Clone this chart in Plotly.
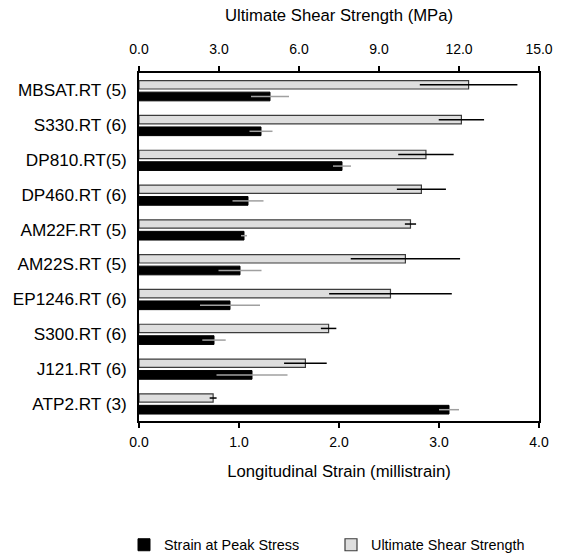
import plotly.graph_objects as go

categories = ["MBSAT.RT (5)", "S330.RT (6)", "DP810.RT(5)", "DP460.RT (6)", "AM22F.RT (5)",
              "AM22S.RT (5)", "EP1246.RT (6)", "S300.RT (6)", "J121.RT (6)", "ATP2.RT (3)"]
strength_mpa = [12.36, 12.09, 10.76, 10.59, 10.18, 9.99, 9.43, 7.11, 6.24, 2.78]
strength_err = [1.83, 0.85, 1.04, 0.92, 0.21, 2.05, 2.30, 0.29, 0.80, 0.13]
strain_ms = [1.31, 1.22, 2.03, 1.09, 1.05, 1.01, 0.91, 0.75, 1.13, 3.10]
strain_err = [0.19, 0.115, 0.09, 0.155, 0.03, 0.215, 0.30, 0.117, 0.355, 0.10]

strain_ticks = [0, 1, 2, 3, 4]
strength_ticks = [0, 3, 6, 9, 12, 15]

FONT = "Arial, Liberation Sans, sans-serif"

fig = go.Figure()

fig.add_trace(go.Bar(
    name="Strain at Peak Stress",
    y=categories, x=strain_ms, orientation="h",
    xaxis="x", yaxis="y",
    width=0.25, offset=0.05,
    marker=dict(color="#000000", line=dict(color="#000000", width=1)),
    error_x=dict(type="data", array=strain_err, visible=True, color="#a0a0a0",
                 thickness=1.5, width=0),
))

fig.add_trace(go.Bar(
    name="Ultimate Shear Strength",
    y=categories, x=strength_mpa, orientation="h",
    xaxis="x2", yaxis="y",
    width=0.24, offset=-0.28,
    marker=dict(color="#dedede", line=dict(color="#3c3c3c", width=1.2)),
    error_x=dict(type="data", array=strength_err, visible=True, color="#000000",
                 thickness=1.5, width=0),
))

fig.update_layout(
    width=566, height=557,
    margin=dict(l=139, r=27, t=73, b=136, autoexpand=False),
    paper_bgcolor="white", plot_bgcolor="white",
    font=dict(family=FONT, color="#000000", size=14),
    showlegend=True,
    legend=dict(orientation="h", x=-0.0375, y=-0.356, xanchor="left", yanchor="middle",
                font=dict(size=14.4, family=FONT), entrywidth=162, entrywidthmode="pixels",
                itemwidth=30, tracegroupgap=0),
    xaxis=dict(range=[0, 4], tickvals=strain_ticks, tickformat=".1f",
               showline=True, linecolor="#000000", linewidth=1.5,
               ticks="outside", ticklen=5, tickcolor="#000000", tickwidth=1.5,
               showgrid=False, zeroline=False,
               tickfont=dict(size=14), ticklabelstandoff=2,
               title=dict(text="Longitudinal Strain (millistrain)", font=dict(size=16.7), standoff=17)),
    xaxis2=dict(range=[0, 15], tickvals=strength_ticks, tickformat=".1f",
                overlaying="x", side="top", anchor="y",
                showline=True, linecolor="#000000", linewidth=1.5,
                ticks="outside", ticklen=5, tickcolor="#000000", tickwidth=1.5,
                showgrid=False, zeroline=False,
                tickfont=dict(size=14), ticklabelstandoff=7,
                title=dict(text="Ultimate Shear Strength (MPa)", font=dict(size=16.7), standoff=15)),
    yaxis=dict(type="category", categoryorder="array", categoryarray=categories,
               range=[9.5, -0.5],
               showline=True, mirror=True, linecolor="#000000", linewidth=1.5,
               ticks="", showgrid=False, zeroline=False,
               tickfont=dict(size=17.2), ticklabelstandoff=7),
)

fig.write_html("out.html")
